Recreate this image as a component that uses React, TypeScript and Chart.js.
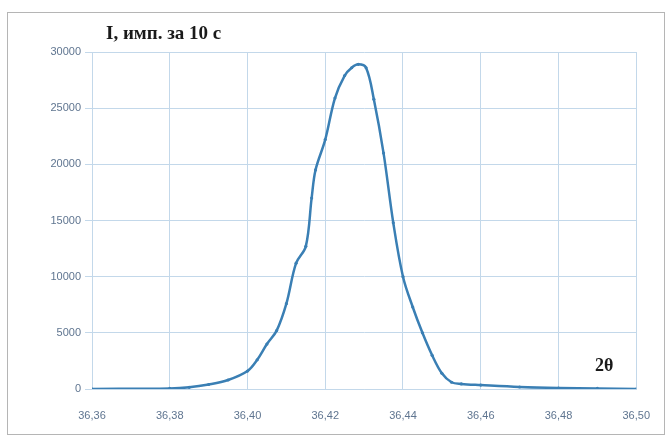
import React, { useEffect, useRef } from "react";
import { Chart, registerables } from "chart.js";

Chart.register(...registerables);

const angles: number[] = [
  36.36, 36.38, 36.385, 36.39, 36.395, 36.4, 36.4025, 36.405, 36.4075, 36.41,
  36.4125, 36.415, 36.4165, 36.4175, 36.42, 36.4225, 36.425, 36.4268, 36.4285,
  36.4305, 36.4325, 36.435, 36.4375, 36.44, 36.4425, 36.445, 36.4475, 36.45,
  36.4525, 36.455, 36.46, 36.47, 36.48, 36.49, 36.5,
];
const intensity: number[] = [
  0, 50, 150, 400, 800, 1600, 2600, 4000, 5200, 7600,
  11200, 12700, 17000, 19500, 22200, 25900, 27900, 28600, 28900,
  28600, 25800, 21000, 14800, 10000, 7300, 5000, 3000, 1400,
  600, 450, 350, 180, 90, 50, 0,
];
const yTitle = "I, имп. за 10 с";
const xTitle = "2θ";

export default function App() {
  const ref = useRef<HTMLCanvasElement | null>(null);
  useEffect(() => {
    if (!ref.current) return;
    const gridColor = "#c3d8ea";
    const tickColor = "#5f7590";
    const tickFont = { family: "'Liberation Sans', Arial, sans-serif", size: 11 };
    const chart = new Chart(ref.current, {
      type: "line",
      data: {
        datasets: [
          {
            data: angles.map((a, i) => ({ x: a, y: intensity[i] })),
            borderColor: "#3a7fb4",
            backgroundColor: "#3a7fb4",
            borderWidth: 2.5,
            pointRadius: 1.6,
            pointBorderWidth: 0,
            tension: 0.35,
          },
        ],
      },
      options: {
        animation: false,
        responsive: false,
        maintainAspectRatio: false,
        layout: { padding: { top: 52, right: 22, bottom: 0, left: 0 } },
        plugins: { legend: { display: false }, tooltip: { enabled: false } },
        scales: {
          x: {
            type: "linear",
            min: 36.36,
            max: 36.5,
            ticks: {
              stepSize: 0.02,
              color: tickColor,
              font: tickFont,
              padding: 20,
              maxRotation: 0,
              callback: (v: any) => Number(v).toFixed(2).replace(".", ","),
            },
            grid: { color: gridColor, drawTicks: false, lineWidth: 1 },
            border: { color: gridColor },
            afterFit: (s: any) => { s.height = 50; },
          },
          y: {
            min: 0,
            max: 30000,
            ticks: {
              stepSize: 5000,
              color: tickColor,
              font: tickFont,
              padding: 4,
              callback: (v: any) => String(Math.round(Number(v))),
            },
            grid: { color: gridColor, tickLength: 7, lineWidth: 1 },
            border: { color: gridColor },
            afterFit: (s: any) => { s.width = 92; },
          },
        },
      },
    });
    return () => chart.destroy();
  }, []);

  const serif = "'Liberation Serif', 'Times New Roman', serif";
  return (
    <div style={{ position: "fixed", left: 0, top: 0, width: 670, height: 439, background: "#fff" }}>
      <div
        style={{
          position: "absolute",
          left: 7,
          top: 12,
          width: 658,
          height: 423,
          border: "1px solid #b5b5b5",
          boxSizing: "border-box",
        }}
      />
      <canvas ref={ref} width={670} height={439} style={{ position: "absolute", left: 0, top: 0 }} />
      <div
        style={{
          position: "absolute",
          left: 106,
          top: 22,
          font: `bold 19px ${serif}`,
          color: "#1a1a1a",
          whiteSpace: "nowrap",
          lineHeight: "22px",
        }}
      >
        {yTitle}
      </div>
      <div
        style={{
          position: "absolute",
          left: 595,
          top: 354,
          font: `bold 18px ${serif}`,
          color: "#1a1a1a",
          lineHeight: "22px",
        }}
      >
        {xTitle}
      </div>
    </div>
  );
}
